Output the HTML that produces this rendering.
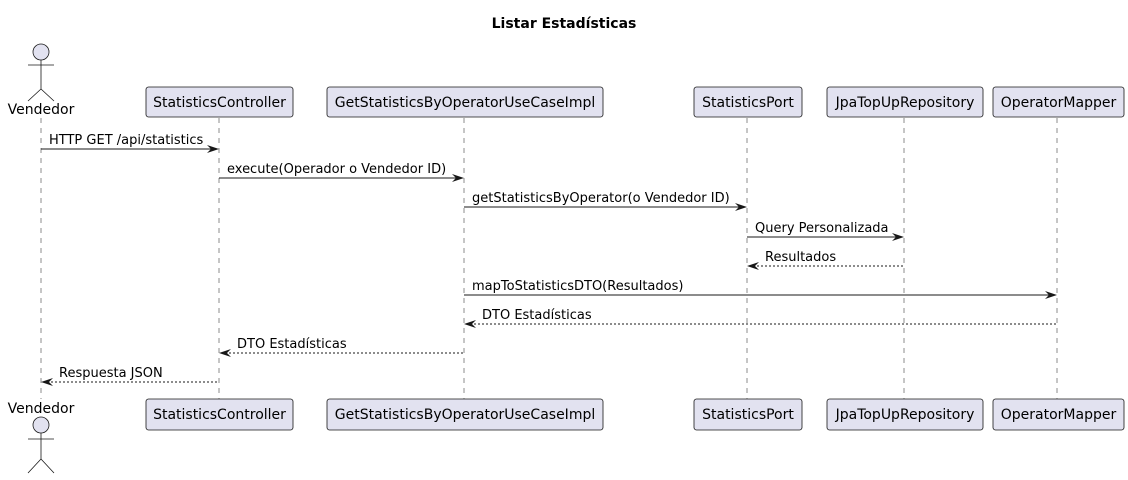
<!DOCTYPE html>
<html><head><meta charset="utf-8"><style>
html,body{margin:0;padding:0;background:#fff;}
svg{display:block;}
text{font-family:"DejaVu Sans","Liberation Sans",sans-serif;font-size:13px;fill:#000;}
.bt{font-size:14px;}
.b{fill:#E2E2F0;stroke:#181818;stroke-width:0.8;}
.ll{stroke:#181818;stroke-width:0.5;stroke-dasharray:5,5;}
.m{stroke:#181818;stroke-width:1;}
.r{stroke:#181818;stroke-width:1;stroke-dasharray:2,2;}
.a{fill:#181818;}
.act{fill:#E2E2F0;stroke:#181818;stroke-width:0.8;}
.al{stroke:#181818;stroke-width:0.8;fill:none;}
</style></head><body>
<svg width="1128" height="480" viewBox="0 0 1128 480" xmlns="http://www.w3.org/2000/svg">
<text x="564" y="28" text-anchor="middle" style="font-weight:bold;font-size:14px">Listar Estadísticas</text>

<line class="ll" x1="41" y1="118" x2="41" y2="399"/>
<line class="ll" x1="219" y1="118" x2="219" y2="399"/>
<line class="ll" x1="464" y1="118" x2="464" y2="399"/>
<line class="ll" x1="747" y1="118" x2="747" y2="399"/>
<line class="ll" x1="904" y1="118" x2="904" y2="399"/>
<line class="ll" x1="1057" y1="118" x2="1057" y2="399"/>

<circle class="act" cx="41" cy="52" r="8"/>
<path class="al" d="M41 60 V89 M28 65 H54 M41 89 L28 101 M41 89 L54 101"/>
<text class="bt" x="41" y="114" text-anchor="middle">Vendedor</text>
<text class="bt" x="41" y="413" text-anchor="middle">Vendedor</text>
<circle class="act" cx="41" cy="425" r="8"/>
<path class="al" d="M41 433 V459 M28 439 H54 M41 459 L28 473 M41 459 L54 473"/>

<rect class="b" x="146" y="87" width="147" height="30" rx="2.5"/>
<text class="bt" x="219.5" y="107" text-anchor="middle">StatisticsController</text>
<rect class="b" x="327" y="87" width="276" height="30" rx="2.5"/>
<text class="bt" x="465" y="107" text-anchor="middle">GetStatisticsByOperatorUseCaseImpl</text>
<rect class="b" x="694" y="87" width="108" height="30" rx="2.5"/>
<text class="bt" x="748" y="107" text-anchor="middle">StatisticsPort</text>
<rect class="b" x="827" y="87" width="156" height="30" rx="2.5"/>
<text class="bt" x="905" y="107" text-anchor="middle">JpaTopUpRepository</text>
<rect class="b" x="993" y="87" width="131" height="30" rx="2.5"/>
<text class="bt" x="1058.5" y="107" text-anchor="middle">OperatorMapper</text>

<rect class="b" x="146" y="399" width="147" height="31" rx="2.5"/>
<text class="bt" x="219.5" y="419" text-anchor="middle">StatisticsController</text>
<rect class="b" x="327" y="399" width="276" height="31" rx="2.5"/>
<text class="bt" x="465" y="419" text-anchor="middle">GetStatisticsByOperatorUseCaseImpl</text>
<rect class="b" x="694" y="399" width="108" height="31" rx="2.5"/>
<text class="bt" x="748" y="419" text-anchor="middle">StatisticsPort</text>
<rect class="b" x="827" y="399" width="156" height="31" rx="2.5"/>
<text class="bt" x="905" y="419" text-anchor="middle">JpaTopUpRepository</text>
<rect class="b" x="993" y="399" width="131" height="31" rx="2.5"/>
<text class="bt" x="1058.5" y="419" text-anchor="middle">OperatorMapper</text>

<line class="m" x1="41" y1="149" x2="217" y2="149"/>
<path class="a" d="M219 149 L207 145 L211 149 L207 153 Z"/>
<text x="49" y="144">HTTP GET /api/statistics</text>

<line class="m" x1="219" y1="178" x2="462" y2="178"/>
<path class="a" d="M464 178 L452 174 L456 178 L452 182 Z"/>
<text x="227" y="173">execute(Operador o Vendedor ID)</text>

<line class="m" x1="464" y1="207" x2="745" y2="207"/>
<path class="a" d="M747 207 L735 203 L739 207 L735 211 Z"/>
<text x="472" y="202">getStatisticsByOperator(o Vendedor ID)</text>

<line class="m" x1="747" y1="237" x2="902" y2="237"/>
<path class="a" d="M904 237 L892 233 L896 237 L892 241 Z"/>
<text x="755" y="232">Query Personalizada</text>

<line class="r" x1="749" y1="266" x2="904" y2="266"/>
<path class="a" d="M747 266 L759 262 L755 266 L759 270 Z"/>
<text x="765" y="261">Resultados</text>

<line class="m" x1="464" y1="295" x2="1055" y2="295"/>
<path class="a" d="M1057 295 L1045 291 L1049 295 L1045 299 Z"/>
<text x="472" y="290">mapToStatisticsDTO(Resultados)</text>

<line class="r" x1="466" y1="324" x2="1057" y2="324"/>
<path class="a" d="M464 324 L476 320 L472 324 L476 328 Z"/>
<text x="482" y="319">DTO Estadísticas</text>

<line class="r" x1="221" y1="353" x2="464" y2="353"/>
<path class="a" d="M219 353 L231 349 L227 353 L231 357 Z"/>
<text x="237" y="348">DTO Estadísticas</text>

<line class="r" x1="43" y1="382" x2="219" y2="382"/>
<path class="a" d="M41 382 L53 378 L49 382 L53 386 Z"/>
<text x="59" y="377">Respuesta JSON</text>
</svg>
</body></html>
